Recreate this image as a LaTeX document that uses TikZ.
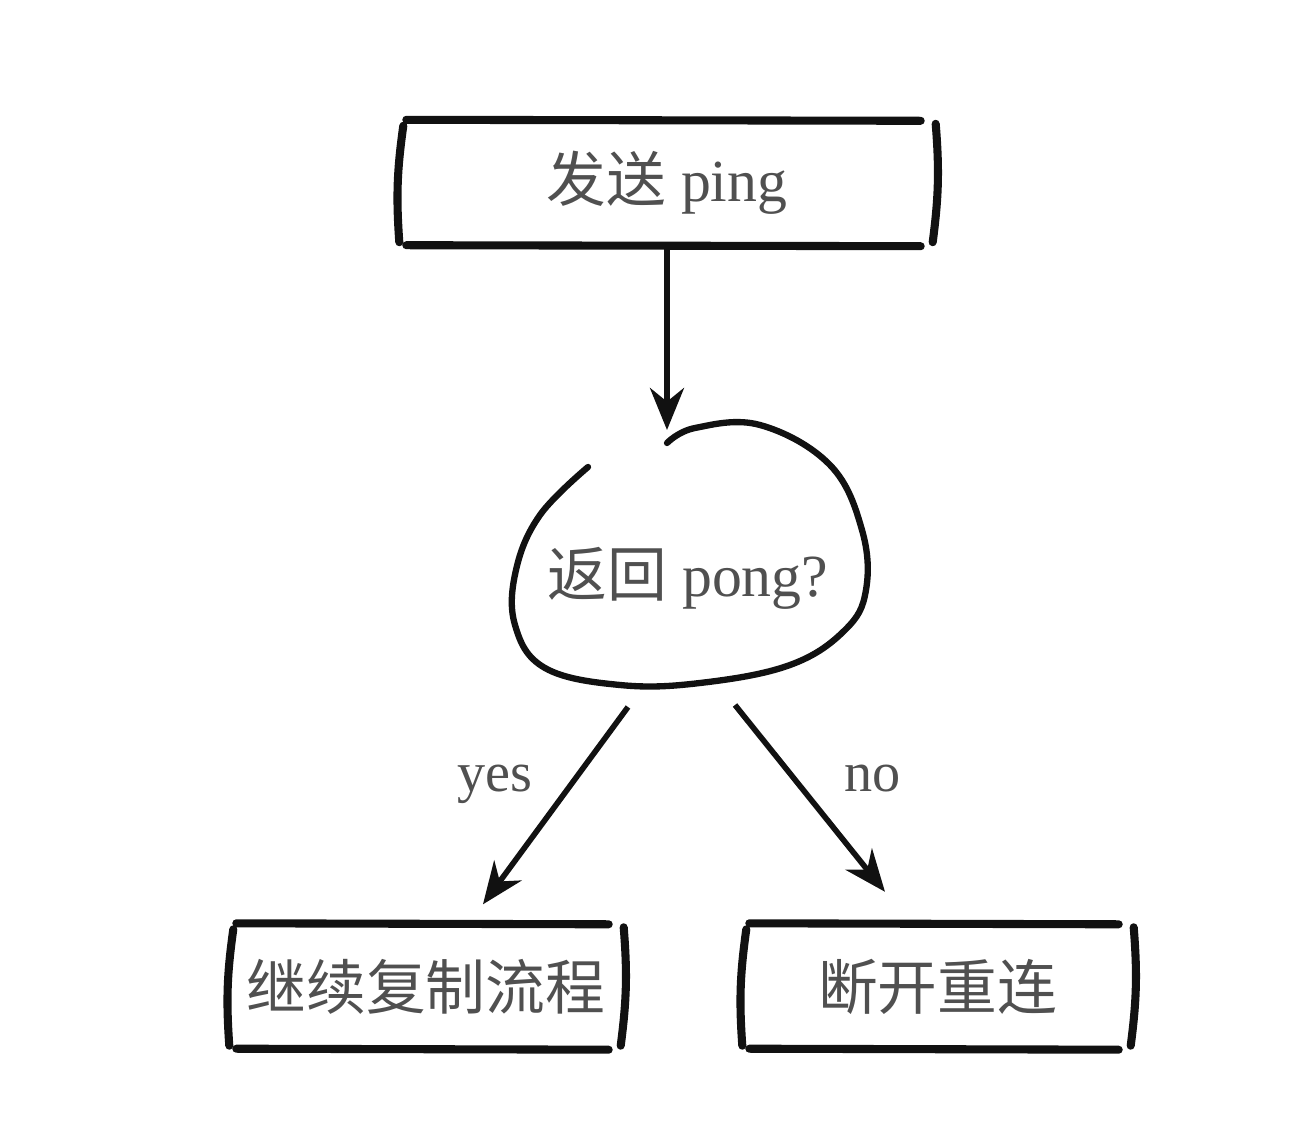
\documentclass[tikz,border=0pt]{standalone}
\usepackage{fontspec}
\setmainfont{Liberation Serif}
\newfontfamily\cjk{Noto Sans CJK SC}
\usetikzlibrary{calc, arrows.meta}

% Hand drawn frame round a node: two long strokes and two brackets
\newcommand{\sketchbox}[1]{%
    \draw[stroke] ($(#1.north west)+(0.10,0.01)$) -- ($(#1.north east)+(-0.17,0)$);
    \draw[stroke] ($(#1.south west)+(0.10,0)$) -- ($(#1.south east)+(-0.17,-0.01)$);
    \draw[stroke] ($(#1.north west)+(0.07,-0.05)$) to[bend right=6] ($(#1.south west)+(0.03,0.03)$);
    \draw[stroke] ($(#1.north east)+(-0.02,-0.03)$) to[bend left=6] ($(#1.south east)+(-0.05,0.03)$);
}

\begin{document}
\begin{tikzpicture}[
    stroke/.style={line width=2.3pt, line cap=round, draw=borderColour},
    blobline/.style={line width=1.8pt, line cap=round, draw=borderColour},
    flowarrow/.style={line width=1.6pt, draw=borderColour, -{Stealth[length=4.2mm, width=3.4mm]}},
    flowbox/.style={minimum width=#1, minimum height=1.23cm, inner sep=0pt, text=textColour, font=\fontsize{17}{20}\selectfont},
    decision/.style={inner sep=0pt, text=textColour, font=\fontsize{17}{20}\selectfont},
    answer/.style={inner sep=2pt, text=textColour, font=\fontsize{16}{19}\selectfont}
]
    \definecolor{borderColour}{HTML}{111111}
    \definecolor{textColour}{HTML}{505050}

    % Fix the page size
    \useasboundingbox (0,0) rectangle (13.01,-11.29);

    % Boxes
    \node[flowbox=5.40cm] (send) at (6.67,-1.83) {{\cjk 发送} ping};
    \sketchbox{send}
    \node[flowbox=3.98cm] (cont) at (4.26,-9.865) {\cjk 继续复制流程};
    \sketchbox{cont}
    \node[flowbox=3.95cm] (brk) at (9.375,-9.865) {\cjk 断开重连};
    \sketchbox{brk}

    % Decision blob, drawn as an open loop
    \node[decision] (reply) at (6.88,-5.78) {{\cjk 返回} pong?};
    \begin{scope}[shift={($(reply)+(0.02,0.18)$)}]
        \draw[blobline] plot[smooth, tension=0.65] coordinates {
            (-0.23,1.17) (0.05,1.32) (0.70,1.35) (1.40,0.95) (1.72,0.30)
            (1.76,-0.30) (1.55,-0.70) (1.00,-1.05) (0.10,-1.23) (-0.70,-1.25)
            (-1.45,-1.08) (-1.75,-0.65) (-1.74,-0.10) (-1.50,0.45) (-1.02,0.93)};
    \end{scope}

    % Connector end points
    \coordinate (blobtop) at ($(reply)+(-0.21,1.48)$);
    \coordinate (yesfrom) at ($(reply)+(-0.60,-1.29)$);
    \coordinate (nofrom) at ($(reply)+(0.47,-1.27)$);
    \coordinate (yesto) at ($(cont.north)+(0.57,0.20)$);
    \coordinate (noto) at ($(brk.north)+(-0.525,0.325)$);

    % Arrows
    \draw[flowarrow] (send.south) -- (blobtop);
    \draw[flowarrow] (yesfrom) -- node[answer, pos=0.33, left=0.38cm, yshift=-0.12cm] {yes} (yesto);
    \draw[flowarrow] (nofrom) -- node[answer, pos=0.33, right=0.5cm, yshift=-0.12cm] {no} (noto);

\end{tikzpicture}
\end{document}
